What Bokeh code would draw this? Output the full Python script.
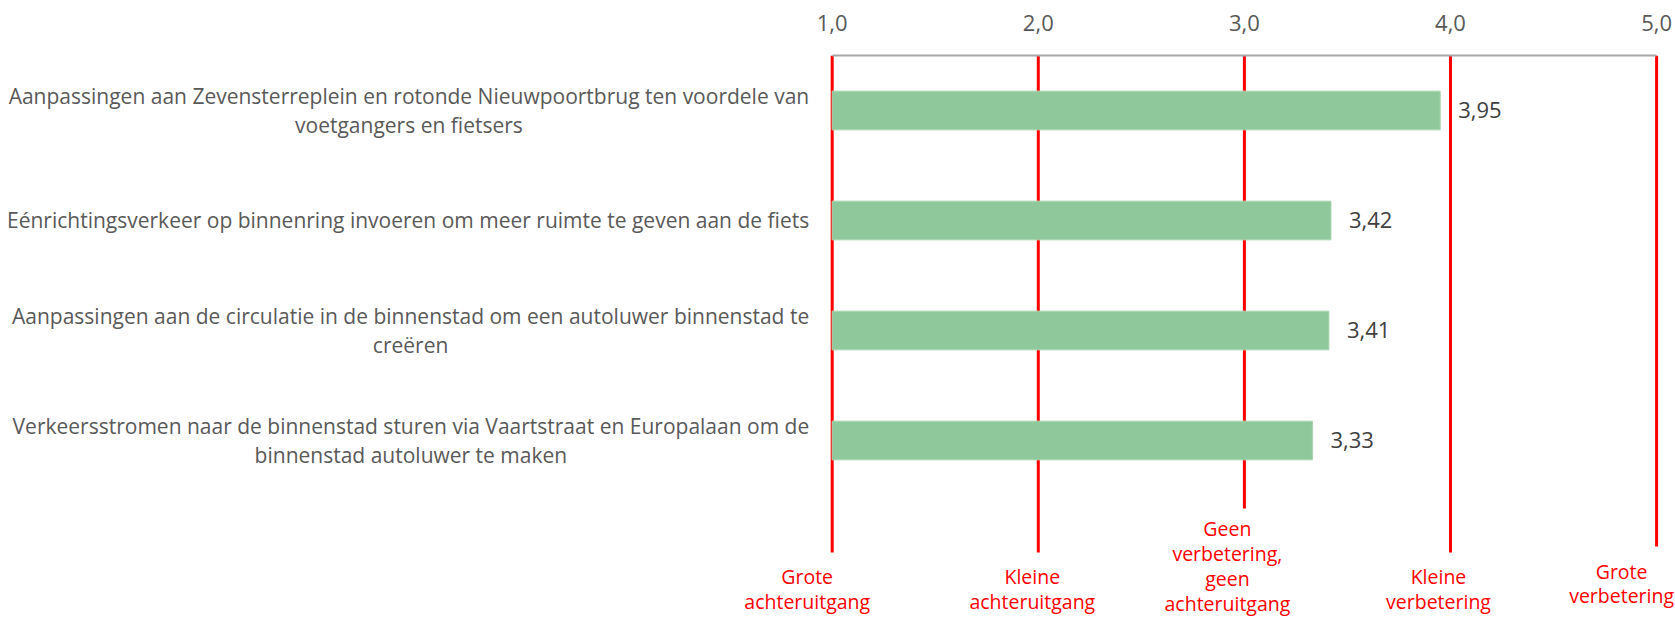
from bokeh.plotting import figure
from bokeh.models import Range1d, FixedTicker, ColumnDataSource
from bokeh.core.properties import value
from bokeh.embed import file_html
from bokeh.resources import INLINE

# ---------------- data ----------------
categories = [
    "Aanpassingen aan Zevensterreplein en rotonde Nieuwpoortbrug ten voordele van\nvoetgangers en fietsers",
    "Eénrichtingsverkeer op binnenring invoeren om meer ruimte te geven aan de fiets",
    "Aanpassingen aan de circulatie in de binnenstad om een autoluwer binnenstad te\ncreëren",
    "Verkeersstromen naar de binnenstad sturen via Vaartstraat en Europalaan om de\nbinnenstad autoluwer te maken",
]
scores = [3.95, 3.42, 3.41, 3.33]
score_labels = ["3,95", "3,42", "3,41", "3,33"]

scale_values = [1, 2, 3, 4, 5]
scale_tick_labels = ["1,0", "2,0", "3,0", "4,0", "5,0"]
scale_names = [
    "Grote\nachteruitgang",
    "Kleine\nachteruitgang",
    "Geen\nverbetering,\ngeen\nachteruitgang",
    "Kleine\nverbetering",
    "Grote\nverbetering",
]

# ---------------- layout / style ----------------
W, H = 1675, 619
FONT = "Open Sans"
ypos = list(range(len(categories)))          # bar slots, top to bottom
line_ends = [4.018, 4.018, 3.618, 4.018, 3.964]   # bottom end of each red reference line (slot units)
name_dx = [-25, -6, -17, -12, -35]                # pixel nudges of the red labels
name_gap = [0.1, 0.1, 0.06, 0.1, 0.1]             # gap between line end and its label (slot units)

p = figure(width=W, height=H, output_backend="svg", toolbar_location=None,
           x_range=Range1d(-3.0354, 5.0917), y_range=Range1d(4.6273, -0.5),
           x_axis_location="above", y_axis_location=None,
           min_border_left=0, min_border_right=0, min_border_bottom=0,
           min_border_top=55)
p.outline_line_color = None
p.xgrid.visible = False
p.ygrid.visible = False
p.background_fill_color = "white"
p.border_fill_color = "white"

ax = p.xaxis[0]
ax.bounds = (1, 5)
ax.ticker = FixedTicker(ticks=scale_values)
ax.major_label_overrides = {v: t for v, t in zip(scale_values, scale_tick_labels)}
ax.axis_line_color = "#A6A6A6"
ax.axis_line_width = 2
ax.major_tick_line_color = None
ax.minor_tick_line_color = None
ax.major_label_text_font = FONT
ax.major_label_text_font_size = "22px"
ax.major_label_text_color = "#595959"
ax.major_label_standoff = 19

# red reference lines
line_src = ColumnDataSource(dict(x=scale_values, y0=[-0.5] * 5, y1=line_ends,
                                 ty=[e + g for e, g in zip(line_ends, name_gap)],
                                 name=scale_names, dx=name_dx))
p.segment(x0="x", y0="y0", x1="x", y1="y1", source=line_src, line_color="#FF0000", line_width=3)

# bars
bar_src = ColumnDataSource(dict(y=ypos, score=scores, lab=score_labels, cat=categories))
p.hbar(y="y", left=1, right="score", height=0.352, source=bar_src,
       fill_color="#8FC89A", line_color="#A9D6B1", line_width=1)

# value labels
p.text(x="score", y="y", text="lab", source=bar_src, x_offset=18,
       text_font=value(FONT), text_font_size="22px", text_color="#404040",
       text_align="left", text_baseline="middle")

# category labels (left of the scale)
p.text(x=1, y="y", text="cat", source=bar_src, x_offset=-23,
       anchor="center_right", text_align="center", text_baseline="middle",
       text_font=value(FONT), text_font_size="21px", text_color="#595959",
       text_line_height=1.04)

# red scale names under the lines
p.text(x="x", y="ty", text="name", source=line_src, x_offset="dx",
       anchor="top_center", text_align="center", text_baseline="top",
       text_font=value(FONT), text_font_size="19.5px", text_color="#FF0000",
       text_line_height=0.92)

open("out.html", "w").write(file_html(p, INLINE))
